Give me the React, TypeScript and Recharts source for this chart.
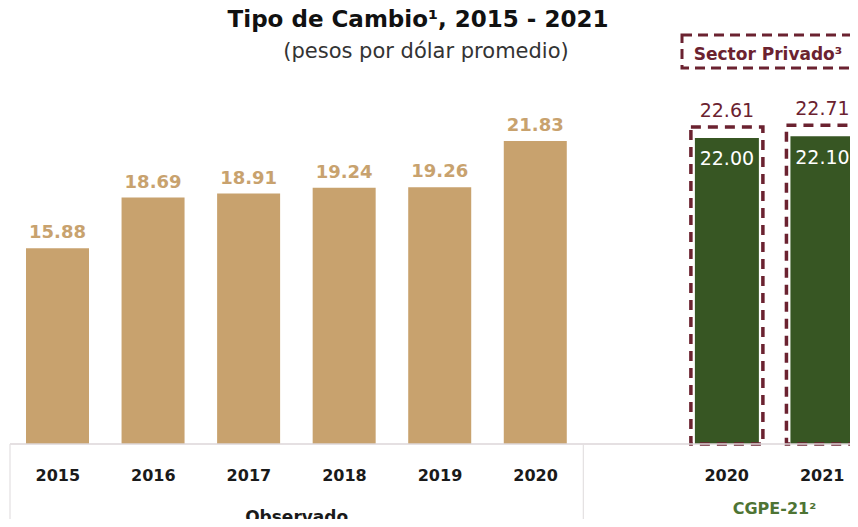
import { Bar, BarChart, LabelList, XAxis, YAxis } from 'recharts';

const categories = ['2015', '2016', '2017', '2018', '2019', '2020', '', '2020', '2021'];
const observado = [15.88, 18.69, 18.91, 19.24, 19.26, 21.83, null, null, null];
const cgpe21 = [null, null, null, null, null, null, null, 22.0, 22.1];
const sectorPrivado = [null, null, null, null, null, null, null, 22.61, 22.71];

const rows = categories.map((cat, i) => ({
  cat,
  obs: observado[i],
  cgpe: cgpe21[i],
  priv: sectorPrivado[i],
}));

const FONT = '"DejaVu Sans", sans-serif';
const GOLD = '#C8A26E';
const GREEN = '#375623';
const MAROON = '#6B2230';

const fmt = (v: any) => (v == null ? '' : Number(v).toFixed(2));

function AxisTick(props: any) {
  const { x, y, payload } = props;
  const index = props.index ?? payload.index;
  const half = payload.offset ?? 47.75;
  return (
    <g>
      {(index === 0 || index === 6) && (
        <line x1={x - half} x2={x - half} y1={y} y2={y + 90} stroke="#E3E0E1" strokeWidth={1.2} />
      )}
      <text x={x} y={y + 37} textAnchor="middle" fontSize={16} fontWeight="bold" fill="#1a1a1a" fontFamily={FONT}>
        {payload.value}
      </text>
      {index === 2 && (
        <text x={x + half} y={y + 79} textAnchor="middle" fontSize={17} fontWeight="bold" fill="#1a1a1a" fontFamily={FONT}>
          Observado
        </text>
      )}
      {index === 7 && (
        <text x={x + half} y={y + 70} textAnchor="middle" fontSize={16} fontWeight="bold" fill="#4E7434" fontFamily={FONT}>
          CGPE-21²
        </text>
      )}
    </g>
  );
}

export default function App() {
  return (
    <div style={{ position: 'relative', width: 858, height: 527, margin: -8, overflow: 'hidden', background: '#fff', fontFamily: FONT }}>
      <div style={{ position: 'absolute', left: 0, top: 6, width: 836, textAlign: 'center', fontSize: 23, fontWeight: 'bold', color: '#111' }}>
        Tipo de Cambio¹, 2015 - 2021
      </div>
      <div style={{ position: 'absolute', left: 0, top: 39, width: 852, textAlign: 'center', fontSize: 21, color: '#333' }}>
        (pesos por dólar promedio)
      </div>
      <svg style={{ position: 'absolute', left: 680, top: 33 }} width={176} height={38}>
        <rect x={2} y={2} width={171} height={33} fill="none" stroke={MAROON} strokeWidth={3} strokeDasharray="10 6" />
        <text x={88} y={27} textAnchor="middle" fontSize={17} fontWeight="bold" fill={MAROON} fontFamily={FONT}>
          Sector Privado³
        </text>
      </svg>
      <BarChart width={870} height={527} data={rows} margin={{ top: 84, right: 0, bottom: 0, left: 10 }} style={{ position: 'absolute', left: 0, top: 0 }}>
        <XAxis
          xAxisId="main"
          dataKey="cat"
          height={83}
          interval={0}
          tickLine={false}
          tickSize={0}
          tickMargin={0}
          axisLine={{ stroke: '#DCD6D8', strokeWidth: 1.5 }}
          tick={<AxisTick />}
        />
        <XAxis xAxisId="cgpe" dataKey="cat" hide height={0} />
        <XAxis xAxisId="priv" dataKey="cat" hide height={0} />
        <YAxis domain={[5, 25]} hide />
        <Bar xAxisId="main" dataKey="obs" barSize={63} fill={GOLD} isAnimationActive={false}>
          <LabelList dataKey="obs" position="top" offset={10} formatter={fmt} fill={GOLD} fontSize={18} fontWeight="bold" fontFamily={FONT} />
        </Bar>
        <Bar xAxisId="cgpe" dataKey="cgpe" barSize={64} fill={GREEN} isAnimationActive={false}>
          <LabelList dataKey="cgpe" position="insideTop" offset={14} formatter={fmt} fill="#fff" fontSize={19} fontFamily={FONT} />
        </Bar>
        <Bar xAxisId="priv" dataKey="priv" barSize={72} fill="none" stroke={MAROON} strokeWidth={3.5} strokeDasharray="10 7" isAnimationActive={false}>
          <LabelList dataKey="priv" position="top" offset={10} formatter={fmt} fill={MAROON} fontSize={19} fontFamily={FONT} />
        </Bar>
      </BarChart>
    </div>
  );
}
